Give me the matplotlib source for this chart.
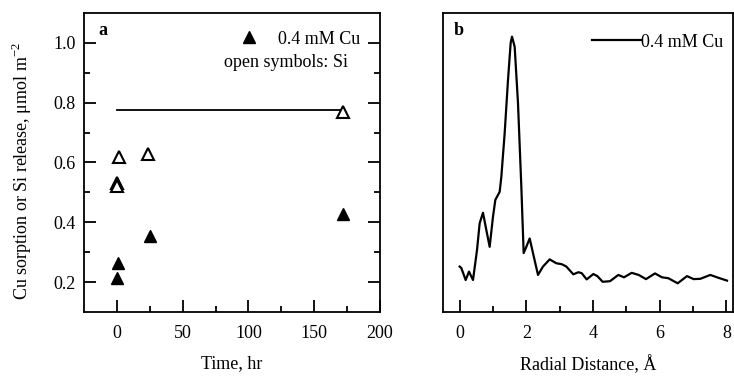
import matplotlib
matplotlib.use("Agg")
import matplotlib.pyplot as plt
from matplotlib.lines import Line2D

plt.rcParams["font.family"] = ["Liberation Serif", "DejaVu Serif"]
plt.rcParams["mathtext.fontset"] = "custom"
plt.rcParams["mathtext.rm"] = "Liberation Serif"

# panel a: Cu sorption (filled) and Si release (open)
cu_time = [0, 1, 25, 172]
cu_sorb = [0.213, 0.263, 0.353, 0.427]
si_time = [1.5, 0, 0, 24, 172]
si_rel = [0.617, 0.533, 0.523, 0.627, 0.77]
si_line_time = [0, 172]
si_line_val = [0.775, 0.775]

# panel b: radial structure function
r_dist = [0.0, 0.05, 0.18, 0.28, 0.4, 0.52, 0.6, 0.7, 0.8, 0.9, 1.0, 1.07,
          1.2, 1.25, 1.35, 1.45, 1.53, 1.57, 1.65, 1.75, 1.85, 1.92, 2.0,
          2.1, 2.2, 2.35, 2.5, 2.7, 2.9, 3.06, 3.2, 3.41, 3.56, 3.66, 3.81,
          4.01, 4.13, 4.29, 4.51, 4.76, 4.93, 5.16, 5.37, 5.59, 5.86, 6.07,
          6.26, 6.54, 6.82, 7.02, 7.22, 7.52, 7.72, 8.02]
ft_mag = [0.152, 0.147, 0.107, 0.135, 0.107, 0.207, 0.297, 0.332, 0.274,
          0.218, 0.319, 0.375, 0.402, 0.452, 0.598, 0.776, 0.9, 0.921, 0.887,
          0.698, 0.419, 0.197, 0.218, 0.246, 0.197, 0.124, 0.152, 0.176,
          0.163, 0.16, 0.152, 0.126, 0.133, 0.13, 0.109, 0.127, 0.12, 0.101,
          0.103, 0.124, 0.116, 0.131, 0.124, 0.11, 0.129, 0.116, 0.113,
          0.096, 0.12, 0.11, 0.111, 0.124, 0.116, 0.105]

fs = 13

fig = plt.figure(figsize=(7.34, 3.77), dpi=100)
ax1 = fig.add_axes([84 / 734, 65 / 377, 296 / 734, 299 / 377])
ax2 = fig.add_axes([443 / 734, 65 / 377, 290 / 734, 299 / 377])

for ax in (ax1, ax2):
    for s in ax.spines.values():
        s.set_linewidth(1.3)
    ax.tick_params(which="major", direction="in", length=8.5, width=1.3,
                   labelsize=fs)
    ax.tick_params(which="minor", direction="in", length=4, width=1.3)
    ax.tick_params(axis="x", pad=9)

ax1.plot(si_line_time, si_line_val, color="black", lw=1.3)
ax1.plot(cu_time, cu_sorb, "^", color="black", ms=8.5, ls="none")
ax1.plot(si_time, si_rel, "^", mfc="white", mec="black", mew=1.5, ms=8,
         ls="none")
ax1.set_xlim(-25, 200)
ax1.set_ylim(0.1, 1.1)
ax1.set_xticks([0, 50, 100, 150, 200])
ax1.set_xticks([25, 75, 125, 175], minor=True)
ax1.set_yticks([0.2, 0.4, 0.6, 0.8, 1.0])
ax1.set_yticks([0.3, 0.5, 0.7, 0.9], minor=True)
ax1.tick_params(axis="y", which="both", right=True, pad=6)
ax1.set_xlabel("Time, hr", fontsize=fs, labelpad=10)
ax1.set_ylabel("Cu sorption or Si release, \u03bcmol m$^{-2}$", fontsize=fs)
ax1.yaxis.set_label_coords(-0.17, 0.47)
ax1.text(0.05, 0.94, "a", transform=ax1.transAxes, fontsize=fs,
         fontweight="bold", va="center")
h1 = Line2D([], [], marker="^", color="black", ls="none", ms=8.5)
ax1.legend([h1], ["0.4 mM Cu"], loc="upper right", frameon=False,
           fontsize=fs, handletextpad=0.6, bbox_to_anchor=(0.958, 0.965),
           borderaxespad=0)
ax1.text(0.892, 0.833, "open symbols: Si", transform=ax1.transAxes,
         fontsize=fs, ha="right", va="center")

ax2.plot(r_dist, ft_mag, color="black", lw=1.6)
ax2.set_xlim(-0.5, 8.2)
ax2.set_ylim(0, 1.0)
ax2.set_xticks([0, 2, 4, 6, 8])
ax2.set_xticks([1, 3, 5, 7], minor=True)
ax2.set_yticks([])
ax2.set_xlabel("Radial Distance, \u00c5", fontsize=fs, labelpad=10)
ax2.text(0.038, 0.94, "b", transform=ax2.transAxes, fontsize=fs,
         fontweight="bold", va="center")
ax2.legend(["0.4 mM Cu"], loc="upper right", frameon=False, fontsize=fs,
           handlelength=2.7, handletextpad=0.0, bbox_to_anchor=(0.99, 0.955),
           borderaxespad=0)

fig.savefig("out.png", dpi=100)
